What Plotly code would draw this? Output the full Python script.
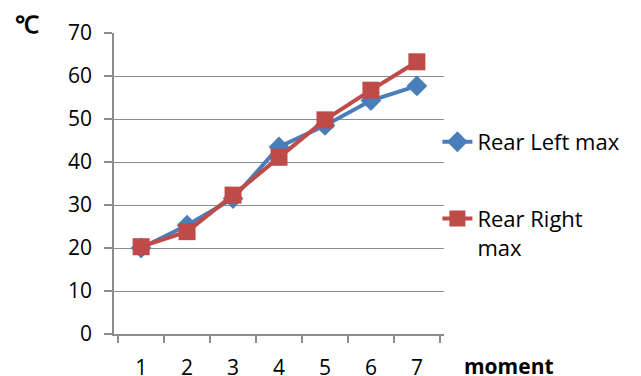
import plotly.graph_objects as go

moments = ["1", "2", "3", "4", "5", "6", "7"]
rear_left_max = [20.0, 25.3, 31.5, 43.5, 48.5, 54.3, 57.7]
rear_right_max = [20.3, 23.8, 32.3, 41.1, 49.8, 56.7, 63.3]
y_ticks = [0, 10, 20, 30, 40, 50, 60, 70]

FONT = "Open Sans"
FS = 21
LFS = 22
fig = go.Figure()
fig.add_trace(go.Scatter(
    x=moments, y=rear_left_max, name="Rear Left max", mode="lines+markers",
    line=dict(color="#4A7EBB", width=4),
    marker=dict(symbol="diamond", size=16, color="#4A7EBB"),
    legend="legend",
))
fig.add_trace(go.Scatter(
    x=moments, y=rear_right_max, name="Rear Right<br>max", mode="lines+markers",
    line=dict(color="#BE4B48", width=4),
    marker=dict(symbol="square", size=17, color="#BE4B48"),
    legend="legend2",
))

# page body has an 8px margin, so the figure is sized 8px smaller
fig.update_layout(
    width=633, height=368,
    margin=dict(l=106, r=197, t=25, b=42, autoexpand=False),
    paper_bgcolor="white", plot_bgcolor="white",
    font=dict(family=FONT, size=FS, color="black"),
    legend=dict(x=0.98, y=0.638, xanchor="left", yanchor="middle",
                bgcolor="rgba(0,0,0,0)", font=dict(size=LFS), valign="top"),
    legend2=dict(x=0.98, y=0.335, xanchor="left", yanchor="middle",
                 bgcolor="rgba(0,0,0,0)", font=dict(size=LFS), valign="top"),
    showlegend=True,
)
fig.update_xaxes(
    type="category", tickson="boundaries", ticks="outside", ticklen=7,
    tickcolor="#8c8c8c", tickwidth=1.5,
    showline=True, linecolor="#8c8c8c", linewidth=1.5,
    showgrid=False, zeroline=False, fixedrange=True,
    tickfont=dict(size=FS), ticklabelstandoff=14,
)
fig.update_yaxes(
    range=[0, 70], tickvals=y_ticks, ticks="outside", ticklen=8,
    tickcolor="#8c8c8c", tickwidth=1.5,
    showline=True, linecolor="#8c8c8c", linewidth=1.5,
    showgrid=True, gridcolor="#8c8c8c", gridwidth=1,
    zeroline=False, tickfont=dict(size=FS), ticklabelstandoff=8,
)
fig.add_annotation(text="<b>℃</b>", xref="paper", yref="paper", x=-0.264, y=1.027,
                   xanchor="center", yanchor="middle", showarrow=False,
                   font=dict(family="Liberation Serif", size=24, color="black"))
fig.add_annotation(text="<b>moment</b>", xref="paper", yref="paper", x=1.055, y=-0.105,
                   xanchor="left", yanchor="middle", showarrow=False,
                   font=dict(family=FONT, size=FS, color="black"))

fig.write_html("out.html")
